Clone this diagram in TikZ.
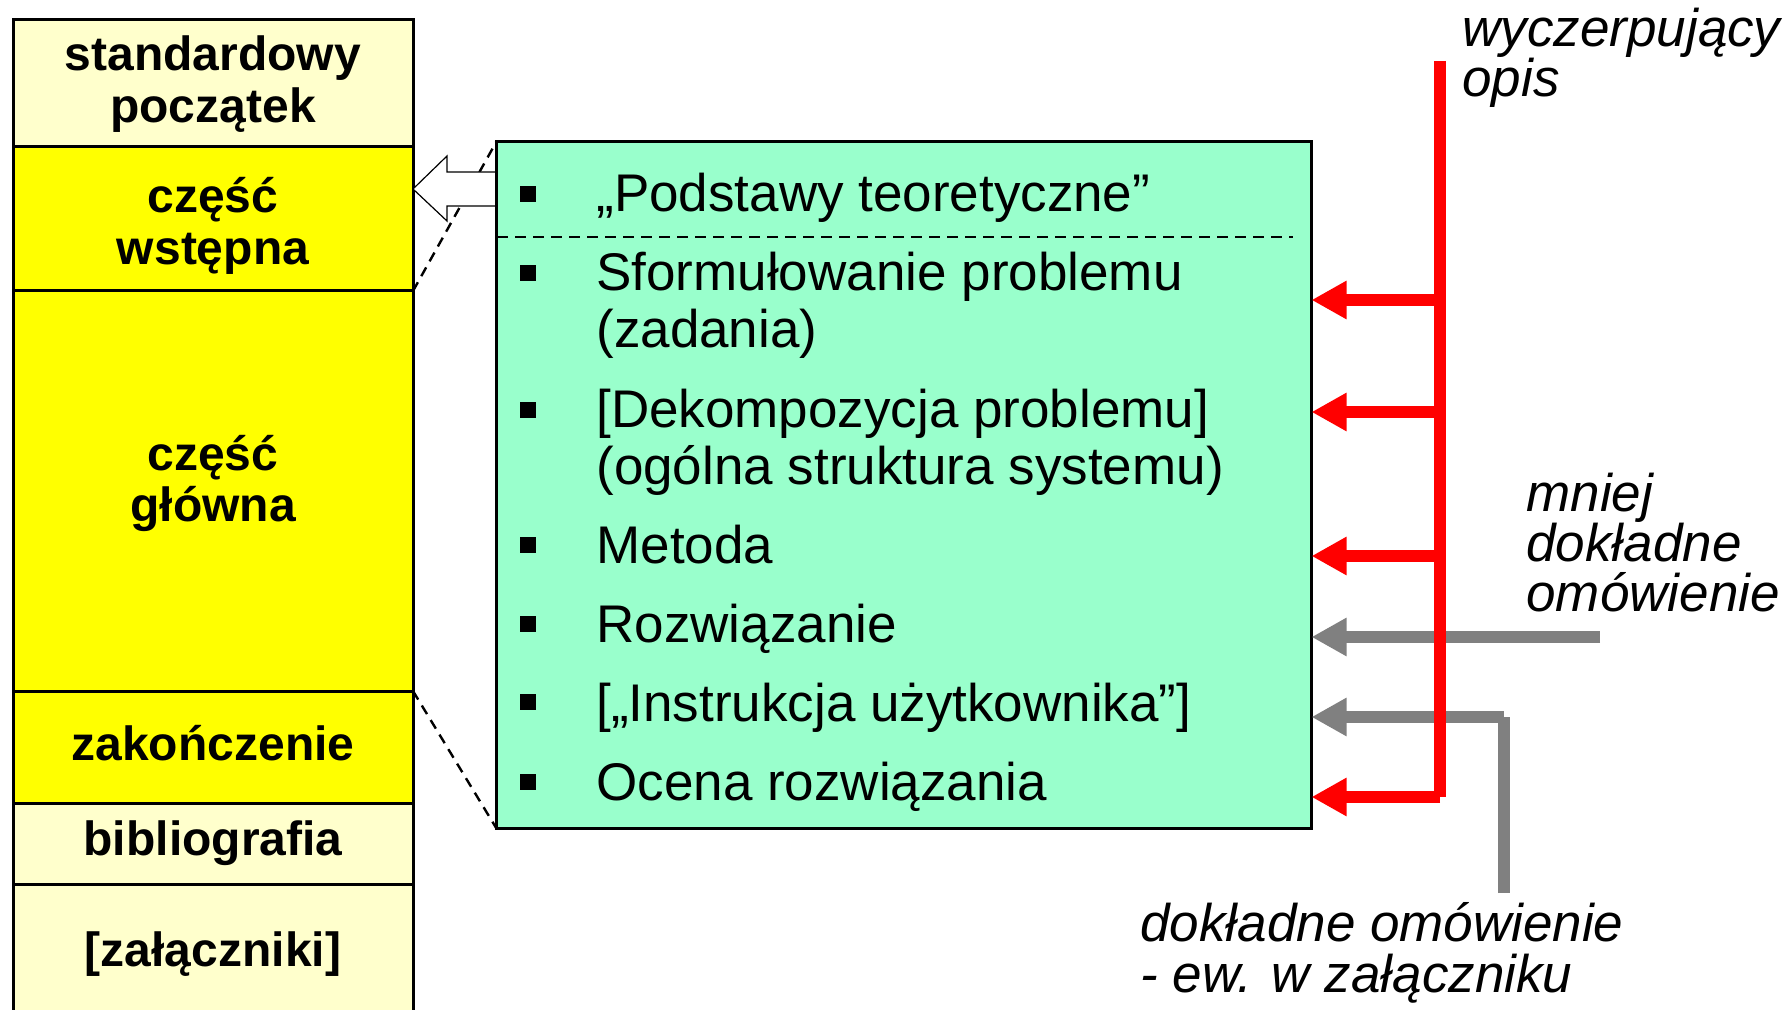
\documentclass[tikz,border=0pt]{standalone}
\usepackage{fontspec}
\setmainfont{Liberation Sans}
\usetikzlibrary{arrows.meta}

\definecolor{paleyellow}{HTML}{FFFFCC}
\definecolor{brightyellow}{HTML}{FFFF00}
\definecolor{mint}{HTML}{99FFCC}
\definecolor{arrowred}{HTML}{FF0000}
\definecolor{arrowgray}{HTML}{808080}

\begin{document}
\begin{tikzpicture}[x=0.5pt,y=-0.5pt,
  colbox/.style={draw=black, line width=1.5pt, outer sep=0pt, inner sep=0pt,
    minimum width=199.75pt},
  coltext/.style={font=\fontsize{24}{26}\selectfont\bfseries, anchor=base, inner sep=0pt},
  itemtext/.style={font=\fontsize{26.5}{28}\selectfont, anchor=base west, inner sep=0pt},
  sidetext/.style={font=\fontsize{26.5}{25}\selectfont\itshape, anchor=base west, inner sep=0pt},
  bulletsq/.style={fill=black, minimum size=8pt, inner sep=0pt},
  zoomline/.style={draw=black, line width=1.2pt, dash pattern=on 5pt off 3.5pt},
  tipshape/.style={-{Triangle[length=17.5pt,width=18pt]}},
  redline/.style={draw=arrowred, line width=6pt},
  redarrow/.style={redline, tipshape},
  grayline/.style={draw=arrowgray, line width=6pt},
  grayarrow/.style={grayline, tipshape},
  hollowarrow/.style={draw=black, fill=white, line width=0.6pt, line join=miter},
  detailbox/.style={draw=black, fill=mint, line width=1.75pt, minimum width=407.5pt,
    minimum height=343.5pt, inner sep=0pt, outer sep=0pt}
]
\clip (0,0) rectangle (1789,1010);
\fill[white] (0,0) rectangle (1789,1010);

% ---- thesis structure column ----
\node[colbox, fill=paleyellow,   minimum height=63.25pt] (start) at (213.25,83.25) {};
\node[colbox, fill=brightyellow, minimum height=72.25pt] (intro) at (213.25,218.75) {};
\node[colbox, fill=brightyellow, minimum height=200pt]   (main)  at (213.25,491) {};
\node[colbox, fill=brightyellow, minimum height=56.25pt] (concl) at (213.25,747.25) {};
\node[colbox, fill=paleyellow,   minimum height=40.5pt]  (bib)   at (213.25,844) {};
\node[colbox, fill=paleyellow,   minimum height=72.75pt] (app)   at (213.25,957.25) {};

\node[coltext] (startA) at (213,71)  {standardowy};
\node[coltext] (startB) at (213,123) {początek};
\node[coltext] (introA) at (213,213) {część};
\node[coltext] (introB) at (213,265) {wstępna};
\node[coltext] (mainA)  at (213,471) {część};
\node[coltext] (mainB)  at (213,522) {główna};
\node[coltext] (conclA) at (213,760) {zakończenie};
\node[coltext] (bibA)   at (213,855) {bibliografia};
\node[coltext] (appA)   at (213,966) {[załączniki]};

% placement of the detail box (drawn after the lines that run under it)
\coordinate (boxC) at (904,485);
\path (boxC) node[detailbox, draw=none, fill=none] (box) {};

% zoom lines from the main part to the detail box
\draw[zoomline] (main.north east) -- (box.north west);
\draw[zoomline] (main.south east) -- (box.south west);

% hollow arrow pointing at the introductory part
\coordinate (hs1) at (497,172);
\coordinate (hs2) at (497,206);
\draw[hollowarrow] (hs1) -- (447,172) -- (447,156) -- (intro.east |- 0,189)
  -- (447,221) -- (447,206) -- (hs2);

% ---- detail box of the main part ----
\node[detailbox] (boxshape) at (boxC) {};

% separator under the first item
\coordinate (sepL) at (497,237);
\coordinate (sepR) at (1293,237);
\draw[draw=black, line width=1.2pt, dash pattern=on 5.5pt off 3.5pt] (sepL) -- (sepR);

% bullets
\node[bulletsq] (b1) at (528,194) {};
\node[bulletsq] (b2) at (528,273) {};
\node[bulletsq] (b3) at (528,410) {};
\node[bulletsq] (b4) at (528,545) {};
\node[bulletsq] (b5) at (528,624) {};
\node[bulletsq] (b6) at (528,702) {};
\node[bulletsq] (b7) at (528,782) {};

% items
\node[itemtext] (t1)  at (596,212) {„Podstawy teoretyczne”};
\node[itemtext] (t2a) at (596,291) {Sformułowanie problemu};
\node[itemtext] (t2b) at (596,348) {(zadania)};
\node[itemtext] (t3a) at (596,428) {[Dekompozycja problemu]};
\node[itemtext] (t3b) at (596,485) {(ogólna struktura systemu)};
\node[itemtext] (t4)  at (596,563) {Metoda};
\node[itemtext] (t5)  at (596,642) {Rozwiązanie};
\node[itemtext] (t6)  at (596,721) {[„Instrukcja użytkownika”]};
\node[itemtext] (t7)  at (596,800) {Ocena rozwiązania};

% ---- gray arrows: less detailed / appendix ----
\coordinate (g1) at (1600,637);
\draw[grayarrow] (g1) -- (g1 -| boxshape.east);
\coordinate (g2s) at (1504,893);
\coordinate (g2c) at (1504,717);
\draw[grayline] (g2s) -- (g2c);
\draw[grayarrow] (g2c) -- (g2c -| boxshape.east);

% ---- red arrows: exhaustive description ----
\coordinate (rtop) at (1440,61);
\coordinate (r1) at (1440,300);
\coordinate (r2) at (1440,412);
\coordinate (r3) at (1440,556);
\coordinate (rbot) at (1440,797);
\draw[redline] (rtop) -- (rbot);
\draw[redarrow] (r1) -- (r1 -| boxshape.east);
\draw[redarrow] (r2) -- (r2 -| boxshape.east);
\draw[redarrow] (r3) -- (r3 -| boxshape.east);
\draw[redarrow] (rbot) -- (rbot -| boxshape.east);

% ---- side labels ----
\node[sidetext] (lab1a) at (1462,47)  {wyczerpujący};
\node[sidetext] (lab1b) at (1462,97)  {opis};
\node[sidetext] (lab2a) at (1526,511) {mniej};
\node[sidetext] (lab2b) at (1526,561) {dokładne};
\node[sidetext] (lab2c) at (1526,611) {omówienie};
\node[sidetext] (lab3a) at (1140,941) {dokładne omówienie};
\node[sidetext] (lab3b) at (1140,992) {- ew. w załączniku};
\end{tikzpicture}
\end{document}
